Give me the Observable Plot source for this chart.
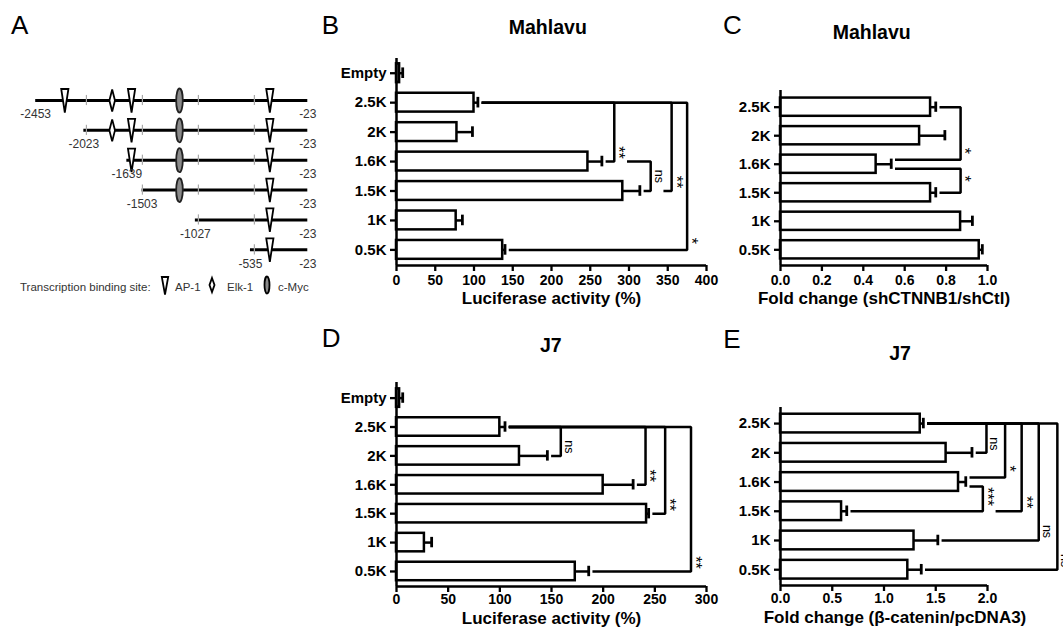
<!DOCTYPE html>
<html><head><meta charset="utf-8">
<script src="https://cdn.jsdelivr.net/npm/d3@7"></script>
<script src="https://cdn.jsdelivr.net/npm/@observablehq/plot@0.6"></script>
<style>
html,body{margin:0;padding:0;background:#fff;}
#root{position:relative;width:1063px;height:635px;overflow:hidden;background:#fff;font-family:'Liberation Sans',Arial,sans-serif;}
.panel{position:absolute;}
.panel svg{display:block;overflow:visible;background:transparent;}
#overlay{position:absolute;left:0;top:0;pointer-events:none;}
.lg{position:absolute;font-size:11.5px;line-height:14px;color:#333;white-space:nowrap;font-family:'Liberation Sans',Arial,sans-serif;}
.lgi{position:absolute;overflow:visible;}
</style></head>
<body><div id="root"></div>
<script>
// ---------------- DATA ----------------
// Panel A: promoter constructs (bp)
const constructStarts = [-2453, -2023, -1639, -1503, -1027, -535];
const constructEnd = -23;
const markerTicks = [-2000, -1500, -1000, -500];
const ap1Sites = [-2193, -1597, -362];
const elk1Sites = [-1770];
const cMycSites = [-1169];
const legendItems = ["AP-1", "Elk-1", "c-Myc"];

// Categories
const lucCats = ["Empty", "2.5K", "2K", "1.6K", "1.5K", "1K", "0.5K"];
const foldCats = ["2.5K", "2K", "1.6K", "1.5K", "1K", "0.5K"];

// Panel B: Mahlavu luciferase activity (%)
const mahlavuLuc = [4, 100, 78, 247, 292, 77, 137];
const mahlavuLucSem = [4, 5, 20, 18, 22, 8, 3];
// Panel C: Mahlavu fold change (shCTNNB1/shCtl)
const mahlavuFold = [0.725, 0.672, 0.462, 0.725, 0.87, 0.96];
const mahlavuFoldSem = [0.025, 0.122, 0.073, 0.025, 0.057, 0.015];
// Panel D: J7 luciferase activity (%)
const j7Luc = [3, 100, 119, 200, 242, 27, 173];
const j7LucSem = [3, 5, 27, 29, 2, 7, 13];
// Panel E: J7 fold change (beta-catenin/pcDNA3)
const j7Fold = [1.35, 1.60, 1.72, 0.59, 1.29, 1.23];
const j7FoldSem = [0.03, 0.25, 0.07, 0.05, 0.23, 0.13];

// Significance brackets: [from, to, bracket position (x units), label]
const bBrackets = [["2.5K","1.6K",281,"**"],["1.6K","1.5K",328,"ns"],["2.5K","1.5K",355,"**"],["2.5K","0.5K",375,"*"]];
const cBrackets = [["2.5K","1.6K",0.87,"*"],["1.6K","1.5K",0.87,"*"]];
const dBrackets = [["2.5K","2K",159,"ns"],["2.5K","1.6K",241,"**"],["2.5K","1.5K",260,"**"],["2.5K","0.5K",285,"**"]];
const eBrackets = [["2.5K","2K",1.99,"ns"],["1.6K","1.5K",1.955,"***"],["2.5K","1.6K",2.17,"*"],["2.5K","1.5K",2.33,"**"],["2.5K","1K",2.495,"ns"],["2.5K","0.5K",2.675,"ns"]];

// Tick values
const ticksB = [0, 50, 100, 150, 200, 250, 300, 350, 400];
const ticksC = [0, 0.2, 0.4, 0.6, 0.8, 1.0];
const ticksD = [0, 50, 100, 150, 200, 250, 300];
const ticksE = [0, 0.5, 1.0, 1.5, 2.0];

// Text
const panelLetters = ["A", "B", "C", "D", "E"];
const panelTitles = ["Mahlavu", "Mahlavu", "J7", "J7"];
const xTitles = ["Luciferase activity (%)", "Fold change (shCTNNB1/shCtl)", "Luciferase activity (%)", "Fold change (\u03B2-catenin/pcDNA3)"];

// ---------------- DRAWING ----------------
const root = document.getElementById("root");
const FONT = "'Liberation Sans', Arial, sans-serif";
const LW = 2.5;

function place(node, left, top, w) {
  const div = document.createElement("div");
  div.className = "panel";
  div.style.left = left + "px"; div.style.top = top + "px"; div.style.width = w + "px";
  div.appendChild(node);
  root.appendChild(div);
}

function barPanel(cfg) {
  const {cats, mean, sem, brackets, xMax, xTicks, fmt, width, height, mL, mR, mT, mB, padTop, padBottom, xTitle, titleDy, titleDx = 0, tickPad = 4} = cfg;
  const n = cats.length;
  const rows = cats.map((c, i) => ({c, i, v: mean[i], e: mean[i] + sem[i]}));
  const idx = Object.fromEntries(cats.map((c, i) => [c, i]));
  const pxX = (width - mL - mR) / xMax;
  const step = (height - mT - mB) / (n - 1 + padTop + padBottom);
  const gap = 5 / pxX, labelSpace = 14 / pxX, nudge = 4.5 / step;
  const ref = "2.5K";
  const barHalf = 0.32, capHalf = 0.18;
  const br = brackets.map(([a, b, x, label], k) => ({k, a, b, x, label, ia: idx[a], ib: idx[b]}));
  const startAt = (d, c) => Math.max(rows[idx[c]].e + gap,
    ...br.filter(o => o.x < d.x && o.b === c).map(o => o.x + labelSpace));
  br.forEach(d => { d.sa = startAt(d, d.a); d.sb = startAt(d, d.b); d.na = 0; d.nb = 0; });
  br.forEach(d => br.forEach(o => {
    if (o !== d && o.a === d.b && d.sb < o.x && o.sa < d.x) { d.nb = -nudge; o.na = nudge; }
  }));
  br.forEach(d => { d.ly = d.a === ref ? d.ib + d.nb - 9 / step : (d.ia + d.ib) / 2; });
  const pts = br.flatMap(d => [
    {k: d.k, x: d.sa, y: d.ia + d.na},
    {k: d.k, x: d.x, y: d.ia + d.na},
    {k: d.k, x: d.x, y: d.ib + d.nb},
    {k: d.k, x: d.sb, y: d.ib + d.nb}
  ]);
  const stars = br.filter(d => d.label !== "ns");
  const ns = br.filter(d => d.label === "ns");
  return Plot.plot({
    width, height, marginLeft: mL, marginRight: mR, marginTop: mT, marginBottom: mB,
    style: {fontFamily: FONT, fontSize: "15px", fontWeight: "bold", color: "#000", background: "transparent", overflow: "visible"},
    x: {domain: [0, xMax]},
    y: {domain: [-padTop, n - 1 + padBottom], reverse: true},
    marks: [
      Plot.rect(rows, {x1: 0, x2: "v", y1: d => d.i - barHalf, y2: d => d.i + barHalf, fill: "white", stroke: "black", strokeWidth: LW}),
      Plot.ruleY(rows, {y: "i", x1: "v", x2: "e", stroke: "black", strokeWidth: LW}),
      Plot.ruleX(rows, {x: "e", y1: d => d.i - capHalf, y2: d => d.i + capHalf, stroke: "black", strokeWidth: 2.8}),
      Plot.line(pts, {x: "x", y: "y", z: "k", stroke: "black", strokeWidth: LW, strokeLinejoin: "miter", strokeLinecap: "square"}),
      Plot.text(stars, {x: "x", y: "ly", text: "label", rotate: 90, dx: 4, fontSize: 16, fontWeight: "normal", fill: "#000"}),
      Plot.text(ns, {x: "x", y: "ly", text: "label", rotate: 90, dx: 8, fontSize: 12.5, fontWeight: "normal", fill: "#000"}),
      Plot.ruleX([0], {stroke: "black", strokeWidth: LW}),
      Plot.ruleY([n - 1 + padBottom], {stroke: "black", strokeWidth: LW}),
      Plot.axisX({ticks: xTicks, tickFormat: fmt, tickSize: 6, tickPadding: tickPad, strokeWidth: 2.3, fontSize: 14, fontWeight: "bold", label: null}),
      Plot.axisY({ticks: d3.range(n), tickFormat: i => cats[i], tickSize: 6, tickPadding: 4, strokeWidth: 2.3, fontSize: 15, fontWeight: "bold", label: null}),
      Plot.text([xTitle], {frameAnchor: "bottom", dy: titleDy, dx: titleDx, fontSize: 17, fontWeight: "bold", fill: "#000"})
    ]
  });
}

// ---- Panel A symbols ----
const ap1Symbol = {draw(ctx) { ctx.moveTo(-3.6, -11.5); ctx.lineTo(3.6, -11.5); ctx.lineTo(0, 12); ctx.closePath(); }};
const elkSymbol = {draw(ctx) { ctx.moveTo(0, -11); ctx.lineTo(2.8, 0); ctx.lineTo(0, 11); ctx.lineTo(-2.8, 0); ctx.closePath(); }};
const mycSymbol = {draw(ctx) {
  const rx = 3.3, ry = 12, k = 0.5523;
  ctx.moveTo(0, -ry);
  ctx.bezierCurveTo(rx * k, -ry, rx, -ry * k, rx, 0);
  ctx.bezierCurveTo(rx, ry * k, rx * k, ry, 0, ry);
  ctx.bezierCurveTo(-rx * k, ry, -rx, ry * k, -rx, 0);
  ctx.bezierCurveTo(-rx, -ry * k, -rx * k, -ry, 0, -ry);
  ctx.closePath();
}};

function schematic() {
  const rows = constructStarts.map((s, i) => ({i, s}));
  const ticks = rows.flatMap(r => markerTicks.filter(t => t >= r.s).map(t => ({i: r.i, t})));
  const sites = arr => rows.flatMap(r => arr.filter(p => p > r.s).map(p => ({i: r.i, p})));
  return Plot.plot({
    width: 320, height: 190, marginLeft: 35.2, marginRight: 12.7, marginTop: 20, marginBottom: 20.7,
    style: {fontFamily: FONT, fontSize: "12px", background: "transparent", overflow: "visible"},
    x: {domain: [constructStarts[0], constructEnd], axis: null},
    y: {domain: [0, constructStarts.length - 1], reverse: true, axis: null},
    marks: [
      Plot.ruleY(rows, {y: "i", x1: "s", x2: () => constructEnd, stroke: "black", strokeWidth: 3}),
      Plot.ruleX(ticks, {x: "t", y1: d => d.i - 0.17, y2: d => d.i + 0.17, stroke: "#a8a8a8", strokeWidth: 1.2}),
      Plot.dot(sites(ap1Sites), {x: "p", y: "i", symbol: ap1Symbol, fill: "white", stroke: "black", strokeWidth: 1.8}),
      Plot.dot(sites(elk1Sites), {x: "p", y: "i", symbol: elkSymbol, fill: "white", stroke: "black", strokeWidth: 1.8}),
      Plot.dot(sites(cMycSites), {x: "p", y: "i", symbol: mycSymbol, fill: "#8a8a8a", stroke: "#222", strokeWidth: 1.8}),
      Plot.text(rows, {x: "s", y: "i", text: d => String(d.s), dy: 14, fontSize: 12, fill: "#333"}),
      Plot.text(rows, {x: () => constructEnd, y: "i", text: () => String(constructEnd), dy: 14, fontSize: 12, fill: "#333"})
    ]
  });
}

place(schematic(), 0, 80, 320);

place(barPanel({cats: lucCats, mean: mahlavuLuc, sem: mahlavuLucSem, brackets: bBrackets, xMax: 400, xTicks: ticksB, fmt: d3.format("d"),
  width: 420, height: 280, mL: 96, mR: 14, mT: 18, mB: 55, padTop: 0.5, padBottom: 0.53, xTitle: xTitles[0], titleDy: 38}), 300, 40, 420);
place(barPanel({cats: foldCats, mean: mahlavuFold, sem: mahlavuFoldSem, brackets: cBrackets, xMax: 1, xTicks: ticksC, fmt: d3.format(".1f"),
  width: 363, height: 280, mL: 80, mR: 76, mT: 50, mB: 55, padTop: 0.585, padBottom: 0.55, xTitle: xTitles[1], titleDy: 38}), 700, 40, 363);
place(barPanel({cats: lucCats, mean: j7Luc, sem: j7LucSem, brackets: dBrackets, xMax: 300, xTicks: ticksD, fmt: d3.format("d"),
  width: 420, height: 275, mL: 96, mR: 14, mT: 22, mB: 49, padTop: 0.54, padBottom: 0.52, xTitle: xTitles[2], titleDy: 37, tickPad: 2}), 300, 360, 420);
place(barPanel({cats: foldCats, mean: j7Fold, sem: j7FoldSem, brackets: eBrackets, xMax: 2, xTicks: ticksE, fmt: d3.format(".1f"),
  width: 363, height: 275, mL: 80, mR: 76, mT: 47, mB: 50, padTop: 0.55, padBottom: 0.54, xTitle: xTitles[3], titleDy: 37, titleDx: 11, tickPad: 2}), 700, 360, 363);

// ---- Panel A legend ----
function lgText(txt, left) {
  const d = document.createElement("div");
  d.className = "lg"; d.textContent = txt; d.style.left = left + "px"; d.style.top = "280px";
  root.appendChild(d);
}
function lgIcon(pathD, cx, fill, stroke) {
  const ns = "http://www.w3.org/2000/svg";
  const s = document.createElementNS(ns, "svg");
  s.setAttribute("class", "lgi"); s.setAttribute("width", 12); s.setAttribute("height", 24);
  s.style.left = (cx - 6) + "px"; s.style.top = "273px";
  const p = document.createElementNS(ns, "path");
  p.setAttribute("d", pathD); p.setAttribute("transform", "translate(6,12)");
  p.setAttribute("fill", fill); p.setAttribute("stroke", stroke); p.setAttribute("stroke-width", 1.8);
  s.appendChild(p); root.appendChild(s);
}
const pathOf = sym => { const p = d3.path(); sym.draw(p); return p.toString(); };
lgText("Transcription binding site:", 20);
lgIcon(pathOf({draw(c){c.moveTo(-3.2,-8);c.lineTo(3.2,-8);c.lineTo(0,9.5);c.closePath();}}), 165, "white", "black");
lgText(legendItems[0], 175);
lgIcon(pathOf({draw(c){c.moveTo(0,-7);c.lineTo(2.5,0);c.lineTo(0,7);c.lineTo(-2.5,0);c.closePath();}}), 212, "white", "black");
lgText(legendItems[1], 227);
lgIcon(pathOf({draw(c){const rx=2.5,ry=8.5,k=0.5523;c.moveTo(0,-ry);c.bezierCurveTo(rx*k,-ry,rx,-ry*k,rx,0);c.bezierCurveTo(rx,ry*k,rx*k,ry,0,ry);c.bezierCurveTo(-rx*k,ry,-rx,ry*k,-rx,0);c.bezierCurveTo(-rx,-ry*k,-rx*k,-ry,0,-ry);c.closePath();}}), 267, "#8a8a8a", "black");
lgText(legendItems[2], 278);

// ---- Overlay: panel letters and titles ----
(function overlay() {
  const ns = "http://www.w3.org/2000/svg";
  const s = document.createElementNS(ns, "svg");
  s.setAttribute("id", "overlay"); s.setAttribute("width", 1063); s.setAttribute("height", 635);
  const add = (txt, x, y, size, weight, anchor) => {
    const t = document.createElementNS(ns, "text");
    t.textContent = txt; t.setAttribute("x", x); t.setAttribute("y", y);
    t.setAttribute("font-family", FONT); t.setAttribute("font-size", size);
    t.setAttribute("font-weight", weight); t.setAttribute("text-anchor", anchor); t.setAttribute("fill", "#000");
    s.appendChild(t);
  };
  const letterPos = [[11, 33.5], [321.7, 34.3], [723, 34.3], [321.7, 347.3], [723.3, 348.3]];
  panelLetters.forEach((L, i) => add(L, letterPos[i][0], letterPos[i][1], 26, "normal", "start"));
  const titlePos = [[547.8, 34], [871.7, 39.3], [550.8, 351.7], [900, 360]];
  panelTitles.forEach((T, i) => add(T, titlePos[i][0], titlePos[i][1], 19.5, "bold", "middle"));
  root.appendChild(s);
})();
</script>
</body></html>
